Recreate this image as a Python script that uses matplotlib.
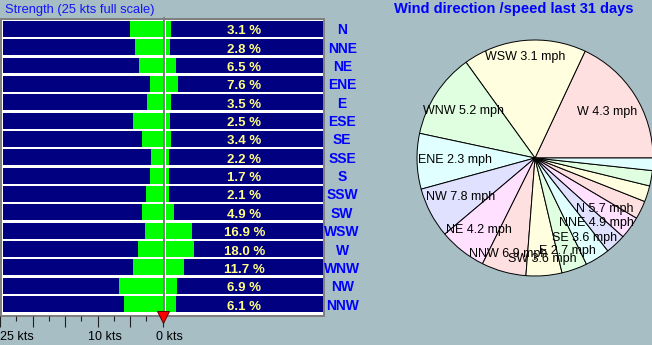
import matplotlib
matplotlib.use('Agg')
import matplotlib.pyplot as plt
import numpy as np
from matplotlib.transforms import blended_transform_factory, offset_copy

# wind rose data, 16 directions
directions = ['N', 'NNE', 'NE', 'ENE', 'E', 'ESE', 'SE', 'SSE',
              'S', 'SSW', 'SW', 'WSW', 'W', 'WNW', 'NW', 'NNW']
percent = [3.1, 2.8, 6.5, 7.6, 3.5, 2.5, 3.4, 2.2,
           1.7, 2.1, 4.9, 16.9, 18.0, 11.7, 6.9, 6.1]
speed_mph = [5.7, 4.9, 4.2, 2.3, 2.7, 5.2, 3.6, 2.0,
             2.3, 2.9, 3.6, 3.1, 4.3, 5.2, 7.8, 6.9]

pie_order = ['W', 'WSW', 'WNW', 'ENE', 'NW', 'NE', 'NNW', 'SW',
             'E', 'SE', 'NNE', 'N', 'ESE', 'SSE', 'SSW', 'S']
pie_labelled = pie_order[:12]
pie_colors = ['#FFE0E0', '#FFFFE0', '#E0FFE0', '#E0FFFF', '#E0E0FF', '#FFE0FF']

scale_major = [0, 5, 10, 15, 20, 25]
scale_minor = [2.5, 7.5, 12.5, 17.5, 22.5]
scale_labels = {25: '25 kts', 10: '10 kts', 0: '0 kts'}

BG = '#A6BEC4'
NAVY = '#000080'
GREEN = '#00FF00'
BLUE = '#0000FF'
GREY = '#808080'
MPH_PER_KT = 1.15078

W, H = 652, 345
plt.rcParams['font.family'] = ['Liberation Sans', 'DejaVu Sans']


def px(x0, y0, x1, y1):
    return [x0 / W, 1 - y1 / H, (x1 - x0) / W, (y1 - y0) / H]


fig = plt.figure(figsize=(W / 100, H / 100), dpi=100, facecolor=BG)

# frame behind the bars
ax_bg = fig.add_axes(px(1, 19.3, 324, 316))
ax_bg.set_facecolor('white')
ax_bg.set_xticks([])
ax_bg.set_yticks([])
for s in ax_bg.spines.values():
    s.set_color(GREY)
    s.set_linewidth(1.44)

rows = np.arange(len(directions))
kts = np.array(speed_mph) / MPH_PER_KT
bar_h = 0.87

# left: speed, 25 kts full scale
ax_l = fig.add_axes(px(0, 19.6, 162.7, 313.3))
ax_l.set_facecolor('none')
ax_l.barh(rows, 24.6, left=0, height=bar_h, color=NAVY)
ax_l.barh(rows, kts, left=0, height=bar_h, color=GREEN)
ax_l.set_xlim(25, 0)
ax_l.set_ylim(15.5, -0.5)
ax_l.axis('off')
ax_l.plot([0, 0], [-0.01, 1.01], color=GREY, lw=1.44, solid_capstyle='butt',
          transform=offset_copy(ax_l.get_xaxis_transform(), fig=fig, x=1, units='dots'),
          clip_on=False)

# right: frequency, percent
ax_r = fig.add_axes(px(166, 19.6, 322.7, 313.3))
ax_r.set_facecolor('none')
ax_r.barh(rows, 100, height=bar_h, color=NAVY)
ax_r.barh(rows, percent, height=bar_h, color=GREEN)
ax_r.set_xlim(0, 100)
ax_r.set_ylim(15.5, -0.5)
ax_r.axis('off')
for i, (d, p) in enumerate(zip(directions, percent)):
    ax_r.text(50, i + 0.3, f'{p:.1f} %', ha='center', va='baseline',
              color='#FFFF88', fontsize=9.5, fontweight='bold')
    ax_r.annotate(d, xy=(1, i + 0.3), xycoords=('axes fraction', 'data'),
                  xytext=(19.5, 0), textcoords='offset pixels',
                  ha='center', va='baseline', color=BLUE,
                  fontsize=10, fontweight='bold')

# kts scale under the left panel
ax_s = fig.add_axes(px(0, 315.5, 162.7, 316))
ax_s.set_facecolor('none')
ax_s.set_xlim(25, 0)
ax_s.set_yticks([])
for s in ax_s.spines.values():
    s.set_visible(False)
ax_s.set_xticks(scale_major)
ax_s.set_xticks(scale_minor, minor=True)
ax_s.set_xticklabels([])
ax_s.tick_params(axis='x', which='major', direction='out', length=8, width=0.8, color='#202020')
ax_s.tick_params(axis='x', which='minor', direction='out', length=3.3, width=0.8, color='#202020')
for v, lab in scale_labels.items():
    ha = 'left' if v == 25 else 'center'
    dx = 0 if v == 25 else 7
    ax_s.annotate(lab, xy=(v, 0), xycoords=('data', 'axes fraction'),
                  xytext=(dx, -24.5), textcoords='offset pixels',
                  ha=ha, va='baseline', fontsize=9, color='black')
tri_tr = blended_transform_factory(ax_s.transData, fig.transFigure)
ax_s.plot([0], [1 - 316.5 / H], marker='v', ms=9, color='#FF0000',
          mec='#600000', mew=0.7, transform=tri_tr, clip_on=False)

# titles
fig.text(5 / W, 1 - 13.3 / H, 'Strength (25 kts full scale)', color='#1414FF',
         fontsize=9.3, va='baseline')
fig.text(514 / W, 1 - 12.7 / H, 'Wind direction /speed last 31 days', color=BLUE,
         fontsize=10.5, fontweight='bold', ha='center', va='baseline')

# pie of direction frequency, labelled with mean speed
idx = [directions.index(d) for d in pie_order]
vals = [percent[i] for i in idx]
ax_p = fig.add_axes(px(417, 40, 653, 276))
wedges, _ = ax_p.pie(vals, colors=[pie_colors[k % 6] for k in range(len(vals))],
                     startangle=0, counterclock=True, radius=1,
                     wedgeprops=dict(edgecolor='black', linewidth=0.7))
ax_p.set_xlim(-1, 1)
ax_p.set_ylim(-1, 1)
ax_p.set_aspect('auto')
ax_p.axis('off')
a, b = 0.68, 0.86
for wdg, d in zip(wedges, pie_order):
    if d not in pie_labelled:
        continue
    th = np.deg2rad((wdg.theta1 + wdg.theta2) / 2)
    r = a * b / np.hypot(b * np.cos(th), a * np.sin(th))
    ax_p.text(r * np.cos(th), r * np.sin(th),
              f'{d} {speed_mph[directions.index(d)]:.1f} mph',
              ha='center', va='center', fontsize=9, color='black', clip_on=False)

fig.savefig('out.png', dpi=100, facecolor=BG)
